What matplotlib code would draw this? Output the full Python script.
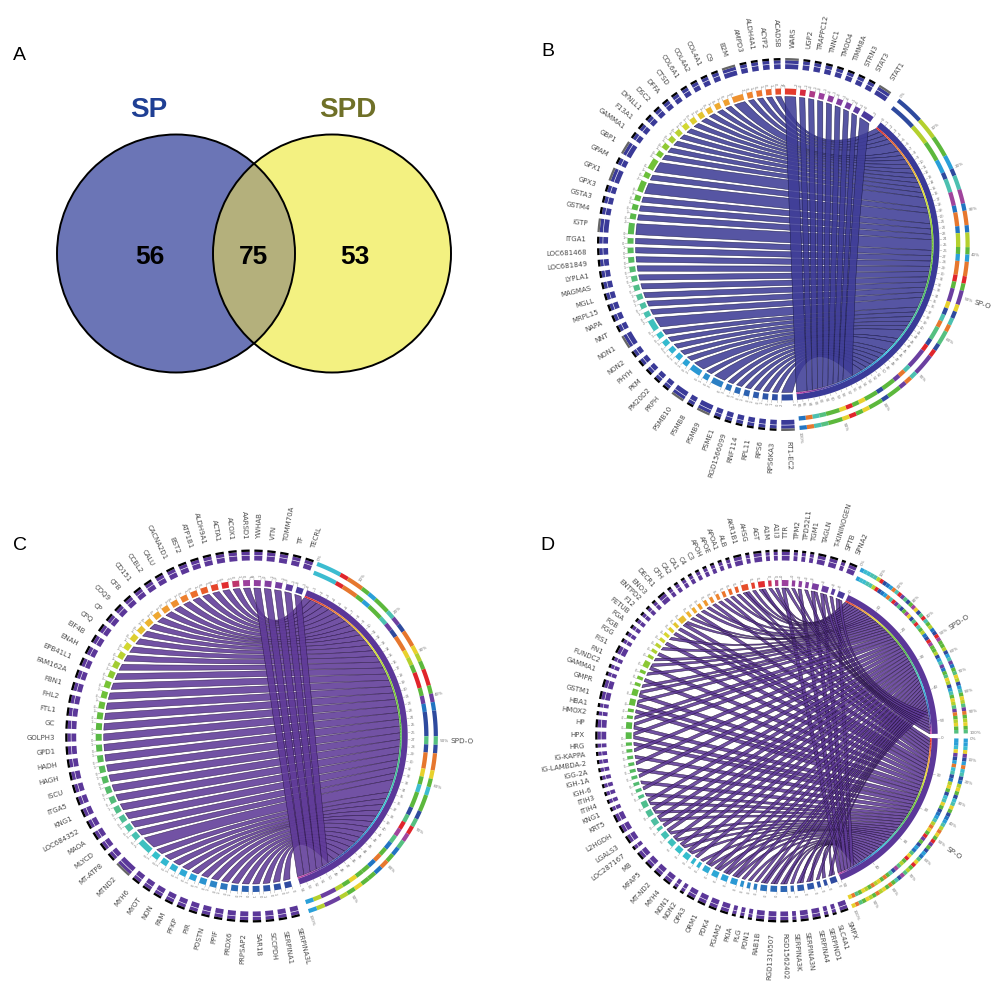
import numpy as np
import matplotlib
matplotlib.use("Agg")
import matplotlib.pyplot as plt
from matplotlib.path import Path
from matplotlib.patches import PathPatch, Circle, Polygon
from matplotlib.colors import LinearSegmentedColormap

# ---------- data ----------
venn_labels = ["SP", "SPD"]
venn_counts = [56, 75, 53]

b_genes = ["RT1-EC2","RPS6KA3","RPS6","RPL11","RNF114","RGD1566099","PSME1","PSMB9","PSMB8","PSMB10","PRPH","PM20D2","PKM","PHYH","NON2","NON1","NNT","NAPA","MRPL15","MGLL","MAGMAS","LYPLA1","LOC681849","LOC681468","ITGA1","IGTP","GSTM4","GSTA3","GPX3","GPX1","GPAM","GBP1","GAMMA1","F13A1","DYNLL1","DSC2","DFFA","CTSD","COL6A1","COL4A2","COL4A1","C9","B2M","AMPD3","ALDH4A1","ACYP2","ACADSB","WARS","UGP2","TRAPPC12","TNNC1","TMOD4","TIMM8A","STRN3","STAT3","STAT1"]
b_values = [2,1,1,1,1,1,1,2,1,2,1,1,1,1,1,2,1,1,1,1,1,1,1,1,1,2,1,1,1,2,1,2,1,1,1,1,1,1,1,1,1,1,2,1,1,1,1,2,1,1,1,1,1,1,1,2]
b_ring = [("N",4),("L",3),("G",3),("S",2),("N",1),("T",2),("M",2),("B",1),("O",2),("B",1),("L",2),("G",1),("S",1),("O",2),("R",1),("G",1),("P",2),("Y",1),("N",1),("T",1),("O",1),("E",2),("N",1),("R",1),("P",3),("T",1),("O",1),("P",1),("G",2),("N",1),("G",2),("Y",1),("G",1),("R",1),("Y",1),("G",2),("E",1),("T",1),("O",1),("B",1)]

c_genes = ["SERPINA3L","SERPINA1","SCCPDH","SAR1B","PRPSAP2","PRDX6","PPIF","POSTN","PIR","PFKP","PAM","NON","MYOT","MYH6","MTND2","MT-ATP8","MLYCD","MAOA","LOC684352","KNG1","ITGA5","ISCU","HAGH","HADH","GPD1","GOLPH3","GC","FTL1","FHL2","FBN1","FAM162A","EPB41L1","ENAH","EIF4B","CPQ","CP","COQ9","CFB","CD151","CCBL2","CALU","CACNA2D1","BST2","ATP1B1","ALDH9A1","ACTA1","ACOX1","AARSD1","YWHAB","VTN","TOMM70A","TF","TECRL"]
c_values = [1]*14 + [2] + [1]*38
c_ring = [("C",3),("R",1),("O",2),("G",1),("S",1),("G",2),("T",1),("P",1),("N",1),("O",2),("Y",1),("L",1),("G",1),("R",2),("G",1),("P",1),("B",1),("N",3),("E",1),("N",1),("O",2),("Y",1),("G",1),("C",1),("G",2),("N",1),("E",1),("R",1),("M",1),("E",1),("B",1),("G",1),("O",1),("B",1),("G",1),("G",1),("Y",1),("G",1),("L",1),("P",2),("L",1),("S",1)]

d_genes = ["SMPX","SLC4A1","SERPIND1","SERPINA4","SERPINA3N","SERPINA3K","RGD1562402","RGD1310507","RAB1B","PON1","PLG","PKIA","PGAM2","PDK4","ORM1","OPA3","NON2","NON1","MYH4","MT-ND2","MFAP5","MB","LOC287167","LGALS3","L2HGDH","KRT5","KNG1","ITIH4","ITIH3","IGH-6","IGH-1A","IGG-2A","IG-LAMBDA-2","IG-KAPPA","HRG","HPX","HP","HMOX2","HBA1","GSTM1","GMPR","GAMMA1","FUNDC2","FN1","FIS1","FGG","FGB","FGA","FETUB","F12","ENTPD2","ENO3","DECR1","CFH","CA2","CA1","C4","C3","APOH","APOE","APOA1","ALB","AKR1B1","AHSG","AGT","A1M","A1I3","TTR","TPM2","TPD52L1","TGM1","TAGLN","T-KININOGEN","SPTB","SPNA2"]
d_sp_o  = [1,1,0,1,1,1,1,1,1,0,1,0,1,1,1,1,1,0,1,1,1,1,0,1,1,1,1,0,1,0,1,0,1,0,1,1,1,0,1,1,1,0,1,0,1,0,1,0,1,0,1,1,1,0,1,0,0,1,0,1,0,1,1,0,1,1,0,1,0,1,0,1,1,0,1]
d_spd_o = [1,0,1,1,1,0,1,1,1,1,0,1,1,1,1,1,0,1,1,1,1,1,1,1,1,1,0,1,0,1,0,1,0,1,0,1,1,1,0,1,1,1,0,1,1,1,0,1,0,1,0,0,1,1,0,1,1,0,1,0,1,0,1,1,1,0,1,1,1,0,1,1,1,1,1]
d_ring_spd = list("SCCTTLRNBSOTRPENGMYNERTGLBNRMGGLNSTPBGEYLNSTGYLEPOGLYGE")
d_ring_sp = list("SSCYPNSOCTNBLYGNCTYGNBSTLOYGRPGNSBEYRGLEMNTGOGYLOGLYGEOY")

# ---------- style ----------
PAL = dict(N="#2e4a9e", L="#b4d02e", G="#5cb83c", S="#2a9fd8", T="#4cc0b0", M="#a0449c",
           P="#6b3fa0", O="#e6772e", R="#e0252b", Y="#e8d12c", B="#2274c2", E="#55c080", C="#3cbcd0")
gene_cmap = LinearSegmentedColormap.from_list("genes", [
    (0.00, "#2f4aa0"), (0.10, "#2b6cb8"), (0.17, "#2a9fd8"), (0.25, "#35c0cc"), (0.30, "#4cc0a8"),
    (0.40, "#55ba60"), (0.50, "#5ab840"), (0.58, "#78c435"), (0.66, "#d8d830"), (0.72, "#eeb030"),
    (0.78, "#ee8830"), (0.83, "#e85a28"), (0.87, "#e02830"), (0.90, "#a0409c"), (0.96, "#7a3ca0"),
    (1.00, "#4a3a9c")])
thin_cmap = LinearSegmentedColormap.from_list("thin", [
    (0.0, "#e0252b"), (0.10, "#ee8830"), (0.22, "#e8e030"), (0.33, "#88d030"), (0.47, "#50b840"),
    (0.60, "#40c0a0"), (0.72, "#30c0e0"), (0.85, "#2a5ab0"), (0.94, "#5a3a9c"), (1.0, "#c040a0")])

fig = plt.figure(figsize=(10, 9.86), dpi=100)
ax = fig.add_axes([0, 0, 1, 1])
ax.set_xlim(0, 1000)
ax.set_ylim(986, 0)
ax.axis("off")
TXT = "#4a4a4a"


def pt(cx, cy, r, th):
    t = np.radians(th)
    return cx + r * np.sin(t), cy - r * np.cos(t)


def sector(cx, cy, r0, r1, a0, a1, color, z=3):
    th = np.linspace(a0, a1, max(3, int(abs(a1 - a0) * 2) + 2))
    xo, yo = pt(cx, cy, r1, th)
    xi, yi = pt(cx, cy, r0, th[::-1])
    ax.add_patch(Polygon(np.c_[np.r_[xo, xi], np.r_[yo, yi]], closed=True, fc=color, ec="none", zorder=z))


def radial(cx, cy, r, th, s, size, color=TXT):
    th = th % 360
    x, y = pt(cx, cy, r, th)
    if th <= 180:
        rot, ha = 90 - th, "left"
    else:
        rot, ha = 270 - th, "right"
    ax.text(x, y, s, fontsize=size, color=color, rotation=rot, rotation_mode="anchor",
            ha=ha, va="center", family="DejaVu Sans", zorder=6)


def ctrl(cx, cy, a, b, R):
    d = ((b - a + 180) % 360) - 180
    mid = a + d / 2
    chord_mid = R * np.cos(np.radians(abs(d) / 2))
    k = 0.62 + 0.38 * np.clip((abs(d) - 70) / 60, 0, 1)
    return pt(cx, cy, k * chord_mid, mid)


def ribbon(cx, cy, a0, a1, b0, b1, color, edge, R=148.0):
    verts, codes = [], []
    tha = np.linspace(a0, a1, 6)
    thb = np.linspace(b0, b1, 6)
    for i, t in enumerate(tha):
        verts.append(pt(cx, cy, R, t))
        codes.append(Path.MOVETO if i == 0 else Path.LINETO)
    verts += [ctrl(cx, cy, a1, b0, R), pt(cx, cy, R, b0)]
    codes += [Path.CURVE3, Path.CURVE3]
    for t in thb[1:]:
        verts.append(pt(cx, cy, R, t))
        codes.append(Path.LINETO)
    verts += [ctrl(cx, cy, b1, a0, R), pt(cx, cy, R, a0)]
    codes += [Path.CURVE3, Path.CURVE3]
    ax.add_patch(PathPatch(Path(verts, codes), fc=color, ec=edge, lw=0.35, alpha=0.88, zorder=2))


def chord(cx, cy, genes, links, segs, g0, g1, fill, band, edge, gap=1.45, numbered=True):
    n = len(genes)
    vals = np.sum(links, axis=0)
    unit = (g1 - g0 - gap * (n - 1)) / vals.sum()
    pos = g0
    spans = []
    for i, g in enumerate(genes):
        w = vals[i] * unit
        spans.append((pos, pos + w))
        col = gene_cmap(i / (n - 1))
        sector(cx, cy, 150, 156, pos, pos + w, col)
        sector(cx, cy, 175.5, 180.3, pos, pos + w, band)
        sector(cx, cy, 180.9, 184.2, pos, pos + w, band)
        sector(cx, cy, 184.2, 186.5, pos, pos + w, "#666666" if vals[i] > 1 and numbered else "#000000")
        radial(cx, cy, 197, pos + w / 2, g, 5)
        for a, s in ([(pos, "0"), (pos + w, str(vals[i]))] if numbered else [(pos, "0")]):
            x0, y0 = pt(cx, cy, 156, a)
            x1, y1 = pt(cx, cy, 158.5, a)
            ax.plot([x0, x1], [y0, y1], color="#999999", lw=0.3, zorder=3)
            radial(cx, cy, 159, a, s, 2.6, "#777777")
        pos += w + gap

    order = sorted(range(n), key=lambda k: genes[k].upper())
    used = [s[0] for s in spans]
    for sidx in range(len(segs) - 1, -1, -1):
        name, a0, a1, ring = segs[sidx]
        v = np.asarray(links[sidx])
        scale = (a1 - a0) / v.sum()
        p = a0
        for k in order:
            if v[k] == 0:
                continue
            w = v[k] * scale
            gw = v[k] * unit
            ribbon(cx, cy, used[k], used[k] + gw, p, p + w, fill, edge)
            used[k] += gw
            p += w
    for sidx, (name, a0, a1, ring) in enumerate(segs):
        v = np.asarray(links[sidx])
        total = v.sum()
        sector(cx, cy, 150, 156, a0, a1, band)
        th = np.linspace(a0, a1, 121)
        for i in range(120):
            sector(cx, cy, 148.4, 150, th[i], th[i + 1] + 0.05, thin_cmap(i / 119), z=4)
        wsum = sum(w for _, w in ring)
        p = a0
        for letter, w in ring:
            span = (a1 - a0) * w / wsum
            sector(cx, cy, 172.5, 176.8, p, p + span, PAL[letter])
            sector(cx, cy, 182, 186.2, p, p + span, PAL[letter])
            p += span
        for pc in range(0, 101, 10):
            a = a0 + (a1 - a0) * pc / 100
            radial(cx, cy, 188, a, f"{pc}%", 3, "#777777")
        step = 1 if numbered else 10
        for t in range(0, total + 1, step):
            a = a0 + (a1 - a0) * t / total
            x0, y0 = pt(cx, cy, 156, a)
            x1, y1 = pt(cx, cy, 158.5, a)
            ax.plot([x0, x1], [y0, y1], color="#999999", lw=0.3, zorder=3)
            radial(cx, cy, 159, a, str(t), 2.6 if numbered else 3, "#777777")
        radial(cx, cy, 199, (a0 + a1) / 2, name, 5.2)


# ---------- panel A ----------
LC, RC, VY, VR = 176, 332, 253.5, 119
left = Circle((LC, VY), VR, fc="#6b75b6", ec="none", zorder=1)
right = Circle((RC, VY), VR, fc="#f3f181", ec="none", zorder=1)
ax.add_patch(left)
ax.add_patch(right)
inter = Circle((LC, VY), VR, fc="#b4b07c", ec="none", zorder=1.5)
ax.add_patch(inter)
inter.set_clip_path(Circle((RC, VY), VR, transform=ax.transData))
for c in (LC, RC):
    ax.add_patch(Circle((c, VY), VR, fc="none", ec="black", lw=1.4, zorder=2))
sans = "Liberation Sans"
ax.text(149, 110, venn_labels[0], fontsize=20, fontweight="bold", color="#1f3f94", ha="center", va="center", family=sans)
ax.text(348, 110, venn_labels[1], fontsize=20, fontweight="bold", color="#6f7028", ha="center", va="center", family=sans)
for x, v in zip((150, 254, 355), venn_counts):
    ax.text(x, 257, str(v), fontsize=19, fontweight="bold", color="black", ha="center", va="center", family=sans)
for s, x, y in (("A", 19, 56), ("B", 548, 51), ("C", 20, 546), ("D", 547, 545)):
    ax.text(x, y, s, fontsize=14, color="black", ha="center", va="center", family=sans)

# ---------- panels B, C, D ----------
chord(783.5, 244.5, b_genes, [b_values], [("SP-O", 38.5, 175.0, b_ring)], 176.5, 395.3,
      "#3f3d97", "#3a3a98", "#15153f")
chord(251.7, 736, c_genes, [c_values], [("SPD-O", 20.8, 162.0, c_ring)], 165.0, 379.5,
      "#5f3a98", "#5b3799", "#25103f")
d_ring_a = [(l, 1) for l in d_ring_spd]
d_ring_b = [(l, 1) for l in d_ring_sp]
chord(781.7, 736, d_genes, [d_spd_o, d_sp_o],
      [("SPD-O", 25.3, 89.2, d_ring_a), ("SP-O", 90.8, 157.6, d_ring_b)], 159.0, 384.0,
      "#5f3a98", "#5b3799", "#1c0c30", gap=1.3, numbered=False)

fig.savefig("out.png", dpi=100)
